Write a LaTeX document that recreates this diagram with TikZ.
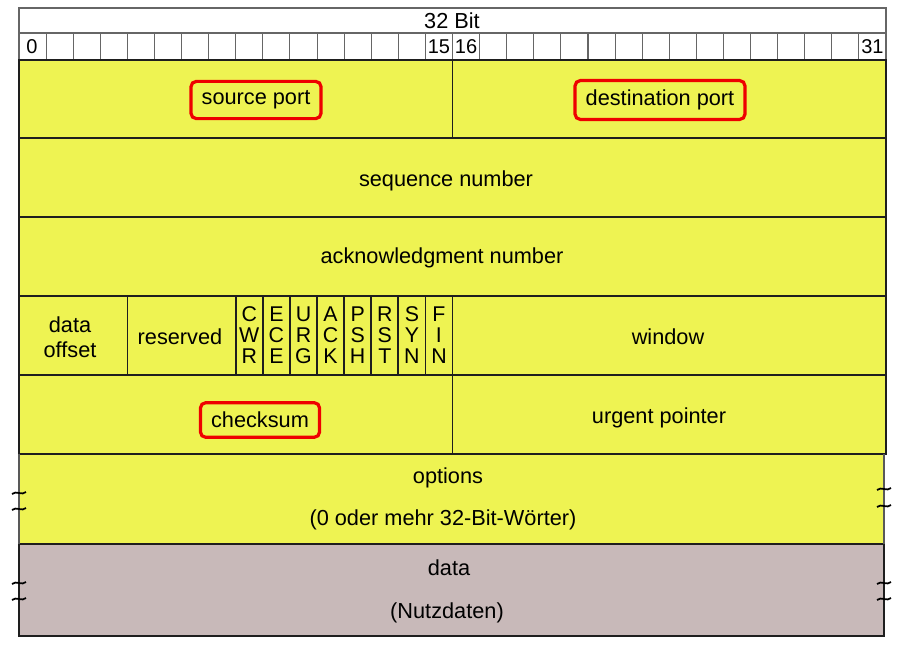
\documentclass[tikz,border=0pt]{standalone}
\usepackage{fontspec}
\setmainfont{Liberation Sans}
\definecolor{hdryellow}{RGB}{238,243,82}
\definecolor{datagray}{RGB}{200,185,185}
\definecolor{hdrline}{RGB}{30,30,30}
\definecolor{markred}{RGB}{238,0,0}
\usetikzlibrary{positioning,calc}
\tikzset{
  field/.style={draw=hdrline, line width=1.3pt},
  lbl/.style={font=\fontsize{16.3}{16}\selectfont, align=center, inner sep=1pt, yshift=-1.5pt},
  bitnum/.style={font=\fontsize{15}{15}\selectfont, inner sep=0pt},
  flag/.style={font=\fontsize{16}{15.8}\selectfont, align=center, inner sep=0pt, yshift=-1pt},
  hilite/.style={draw=markred, line width=2.4pt, rounded corners=4pt, inner xsep=8pt, inner ysep=7pt},
  brk/.pic={\draw[line width=1.3pt] (-7,1) .. controls (-3,-3) and (3,3) .. (7,-1);}
}
\begin{document}
\begin{tikzpicture}[x=0.75pt, y=-0.75pt]
  \useasboundingbox (0,0) rectangle (907,644);
  \def\bw{27.094}
  % header: 32 Bit and bit ruler
  \draw[draw=gray!80!black, line width=0.8pt] (19,8) rectangle (886,33);
  \node[lbl] (title) at (452,19) {32 Bit};
  \foreach \i in {0,...,31}
    \draw[draw=gray!80!black, line width=0.8pt] (19+\i*\bw,33) rectangle ++(\bw,27);
  \node[bitnum, anchor=west] (b0) at (26,47) {0};
  \node[bitnum] (b15) at (19+15.5*\bw,47) {15};
  \node[bitnum] (b16) at (19+16.5*\bw,47) {16};
  \node[bitnum] (b31) at (19+31.5*\bw,47) {31};
  % header rows
  \filldraw[field, fill=hdryellow] (19,60) rectangle (886,454);
  \fill[hdryellow] (19,454) rectangle (884,544);
  \filldraw[field, fill=datagray] (19,544) rectangle (884,636);
  \draw[field] (19,454) -- (884,454);
  \draw[field, draw=gray!70!black] (19,454) -- (19,544) (884,454) -- (884,544);
  \foreach \y in {138,217,296,375}
    \draw[field] (19,\y) -- (886,\y);
  \draw[field] (19+16*\bw,60) -- (19+16*\bw,138);
  \draw[field] (19+16*\bw,296) -- (19+16*\bw,454);
  \draw[field] (19+4*\bw,296) -- (19+4*\bw,375);
  \foreach \i in {8,...,15}
    \draw[field] (19+\i*\bw,296) -- (19+\i*\bw,375);
  % flags
  \foreach \f [count=\i from 8] in {{C\\W\\R},{E\\C\\E},{U\\R\\G},{A\\C\\K},{P\\S\\H},{R\\S\\T},{S\\Y\\N},{F\\I\\N}}
    \node[flag] (flag\i) at (19+\i*\bw+0.5*\bw,334) {\f};
  % field labels
  \node[lbl, hilite] (srcport) at (256,98) {source port};
  \node[lbl, hilite] (dstport) at (660,98) {destination port};
  \node[lbl] (seqnum) at (446,179) {sequence number};
  \node[lbl] (acknum) at (442,256) {acknowledgment number};
  \node[lbl] (offset) at (70,335) {data\\[3pt]offset};
  \node[lbl] (rsvd) at (180,335) {reserved};
  \node[lbl] (window) at (668,335) {window};
  \node[lbl, hilite] (chksum) at (260,418) {checksum};
  \node[lbl] (urgptr) at (659,416) {urgent pointer};
  \node[lbl] (options) at (448,476) {options};
  \node[lbl] (optnote) at (443,518) {(0 oder mehr 32-Bit-W\"orter)};
  \node[lbl] (data) at (449,566) {data};
  \node[lbl] (datanote) at (447,611) {(Nutzdaten)};
  % break marks
  \foreach \y in {493,509,583,599}
    \pic at (19,\y) {brk};
  \foreach \y in {489,506,583,599}
    \pic at (884,\y) {brk};
\end{tikzpicture}
\end{document}
